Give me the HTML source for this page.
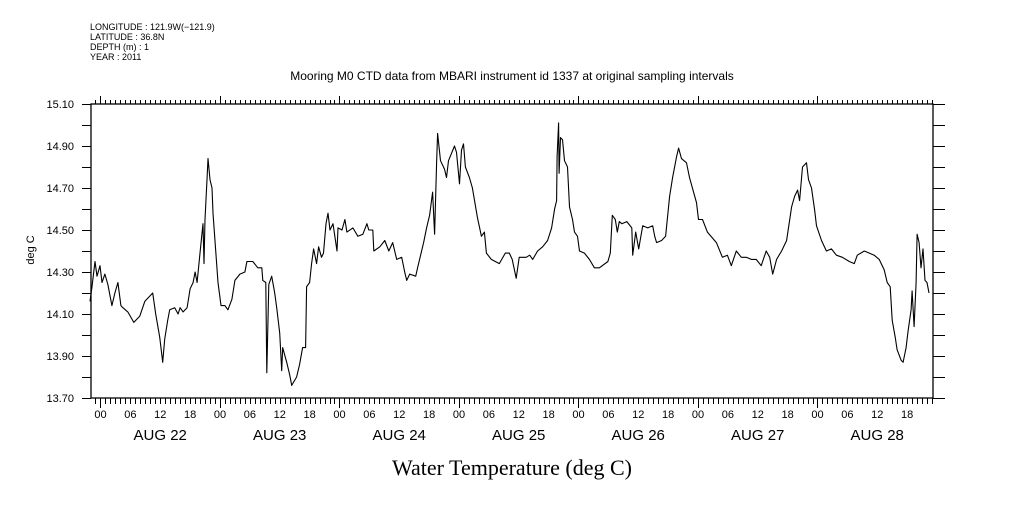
<!DOCTYPE html>
<html><head><meta charset="utf-8"><style>
body{margin:0;background:#fff;}
svg text{font-family:"Liberation Sans",sans-serif;fill:#000;}
</style></head><body>
<svg id="chart" width="1009" height="504" viewBox="0 0 1009 504" xmlns="http://www.w3.org/2000/svg">
<g font-size="9">
<text x="90" y="30">LONGITUDE : 121.9W(−121.9)</text>
<text x="90" y="40">LATITUDE : 36.8N</text>
<text x="90" y="50">DEPTH (m) : 1</text>
<text x="90" y="60">YEAR : 2011</text>
</g>
<text x="512" y="80" text-anchor="middle" font-size="12">Mooring M0 CTD data from MBARI instrument id 1337 at original sampling intervals</text>
<text x="512" y="475" text-anchor="middle" font-size="22" style="font-family:'Liberation Serif',serif">Water Temperature (deg C)</text>
<text transform="translate(34,250) rotate(-90)" text-anchor="middle" font-size="11">deg C</text>
<g id="axes"></g>
<g id="series"></g>
</svg>
<script>
const hours=[-2.1,-1.7,-1.1,-0.7,-0.1,0.3,0.9,1.5,2.3,2.9,3.5,4.1,4.5,5.5,6.7,7.9,8.9,10.5,11.1,11.9,12.5,12.9,13.5,13.9,14.9,15.6,16.0,16.6,17.4,18.0,18.6,19.0,19.4,20.0,20.6,20.8,21.0,21.4,21.6,22.0,22.4,22.6,23.6,24.2,25.0,25.6,26.4,27.0,28.0,29.0,29.4,30.6,31.6,32.4,32.6,33.2,33.4,33.8,34.4,35.0,35.4,36.0,36.4,36.6,37.4,38.0,38.4,39.4,40.0,40.6,41.2,41.4,42.0,42.4,42.8,43.4,43.8,44.4,44.8,45.3,45.7,46.1,46.7,47.5,47.7,48.5,49.1,49.5,50.7,51.7,
52.7,53.5,53.9,54.7,54.9,56.1,57.1,57.9,58.7,59.5,60.5,61.1,61.5,62.1,63.3,63.7,64.9,65.5,66.1,66.7,67.1,67.5,67.7,68.3,69.1,69.5,69.9,71.1,71.5,72.1,72.5,72.9,73.3,74.1,74.7,75.7,76.5,77.1,77.5,78.5,80.1,81.3,82.1,82.7,83.5,84.1,85.5,86.2,86.8,87.8,88.8,89.8,90.6,91.2,91.6,91.7,92.0,92.1,92.4,92.8,93.2,93.8,94.2,94.8,95.2,95.8,96.2,97.2,98.2,99.2,100.2,101.9,102.4,102.8,103.4,103.8,104.2,
104.7,105.7,106.7,106.9,107.5,108.1,108.9,109.9,110.9,111.3,111.7,112.7,113.5,114.3,114.9,115.7,116.1,116.7,117.7,118.3,119.7,120.1,120.9,121.9,123.7,124.9,125.9,126.7,127.7,128.7,129.7,130.7,131.7,132.7,133.7,134.4,135.0,135.8,136.8,137.8,138.8,139.4,140.0,140.4,141.0,141.8,142.2,142.8,143.4,143.8,144.8,145.8,146.8,147.8,149.0,150.4,151.4,152.0,153.4,154.4,155.4,156.4,157.4,158.0,158.6,159.0,159.6,160.0,160.8,161.2,161.8,162.2,162.8,163.0,163.4,163.8,164.0,164.4,164.8,165.2,165.6,166.0,166.4];
const temps=[14.16,14.23,14.35,14.28,14.33,14.25,14.29,14.24,14.14,14.20,14.25,14.14,14.13,14.11,14.06,14.09,14.16,14.20,14.10,13.99,13.87,13.98,14.07,14.12,14.13,14.10,14.13,14.11,14.13,14.22,14.25,14.30,14.25,14.39,14.53,14.34,14.55,14.74,14.84,14.74,14.70,14.58,14.25,14.14,14.14,14.12,14.17,14.26,14.29,14.30,14.35,14.35,14.32,14.32,14.26,14.25,13.82,14.24,14.28,14.20,14.13,14.01,13.83,13.94,13.87,13.81,13.76,13.80,13.86,13.94,13.94,14.23,14.25,14.34,14.41,14.34,14.42,14.37,14.39,14.53,14.58,14.50,14.53,14.40,14.51,14.50,14.55,14.49,14.51,14.47,
14.48,14.53,14.50,14.50,14.40,14.42,14.45,14.40,14.44,14.36,14.37,14.30,14.26,14.29,14.28,14.32,14.44,14.51,14.57,14.68,14.48,14.82,14.96,14.83,14.79,14.75,14.83,14.90,14.87,14.72,14.88,14.91,14.80,14.75,14.70,14.56,14.47,14.49,14.39,14.36,14.34,14.39,14.39,14.36,14.27,14.37,14.37,14.38,14.36,14.40,14.42,14.45,14.51,14.60,14.64,14.85,15.01,14.77,14.94,14.93,14.83,14.80,14.61,14.55,14.49,14.47,14.40,14.39,14.36,14.32,14.32,14.35,14.39,14.57,14.55,14.49,14.54,
14.53,14.54,14.51,14.38,14.49,14.41,14.52,14.51,14.52,14.47,14.44,14.45,14.47,14.66,14.75,14.85,14.89,14.84,14.82,14.75,14.63,14.55,14.55,14.49,14.44,14.37,14.38,14.33,14.40,14.37,14.37,14.36,14.36,14.33,14.40,14.37,14.29,14.36,14.40,14.45,14.61,14.66,14.69,14.64,14.80,14.82,14.74,14.70,14.60,14.52,14.45,14.40,14.41,14.38,14.37,14.35,14.34,14.38,14.40,14.39,14.38,14.36,14.31,14.25,14.23,14.07,13.99,13.93,13.88,13.87,13.94,14.02,14.12,14.21,14.04,14.25,14.48,14.44,14.32,14.41,14.26,14.25,14.20];
const yTickLabels=["13.70","13.90","14.10","14.30","14.50","14.70","14.90","15.10"];
const dayLabels=["AUG 22","AUG 23","AUG 24","AUG 25","AUG 26","AUG 27","AUG 28"];
const hourLabels=["00","06","12","18"];

const X0=91,X1=933,Y0=104,Y1=398,YMIN=13.70,YMAX=15.10;
const HMIN=-1.9,HMAX=167.2;
function xs(h){return X0+(h-HMIN)/(HMAX-HMIN)*(X1-X0);}
function ys(t){return Y1-(t-YMIN)/(YMAX-YMIN)*(Y1-Y0);}
const NS="http://www.w3.org/2000/svg";
const axes=document.getElementById('axes');
function mk(tag,attrs,parent){const e=document.createElementNS(NS,tag);for(const k in attrs)e.setAttribute(k,attrs[k]);parent.appendChild(e);return e;}
let d="";
// frame
const frame=mk('rect',{x:X0,y:Y0,width:X1-X0,height:Y1-Y0,fill:'none',stroke:'#000','stroke-width':1.3},axes);


// y ticks
for(let i=0;i<=14;i++){const t=YMIN+i*0.1;const y=Math.round(ys(t))+0.5;
 d+=`M${X0-9},${y}H${X0}M${X1},${y}H${X1+12}`;}
yTickLabels.forEach(s=>{const y=ys(parseFloat(s));
 const tx=mk('text',{x:X0-17,y:y+4,'text-anchor':'end','font-size':11},axes);tx.textContent=s;
 
 });
// x ticks
for(let h=-1;h<=167;h++){const x=Math.round(xs(h))+0.5;const major=(h%24===0);
 d+=`M${x},${Y0}V${Y0-(major?8:4)}M${x},${Y1}V${Y1+(major?10:6)}`;}
const tp=mk('path',{d:d,stroke:'#000','stroke-width':1,fill:'none'},axes);


for(let day=0;day<7;day++){
 hourLabels.forEach((s,i)=>{const h=day*24+i*6;
  const tx=mk('text',{x:xs(h),y:418,'text-anchor':'middle','font-size':11},axes);tx.textContent=s;
  
  });
 const dt=mk('text',{x:xs(day*24+12),y:440,'text-anchor':'middle','font-size':15},axes);dt.textContent=dayLabels[day];
 
 }
// series
let p="";hours.forEach((h,i)=>{p+=(i?"L":"M")+xs(h).toFixed(1)+","+ys(temps[i]).toFixed(1);});
const line=mk('path',{d:p,stroke:'#000','stroke-width':1.1,fill:'none','stroke-linejoin':'round'},document.getElementById('series'));


</script>
</body></html>
